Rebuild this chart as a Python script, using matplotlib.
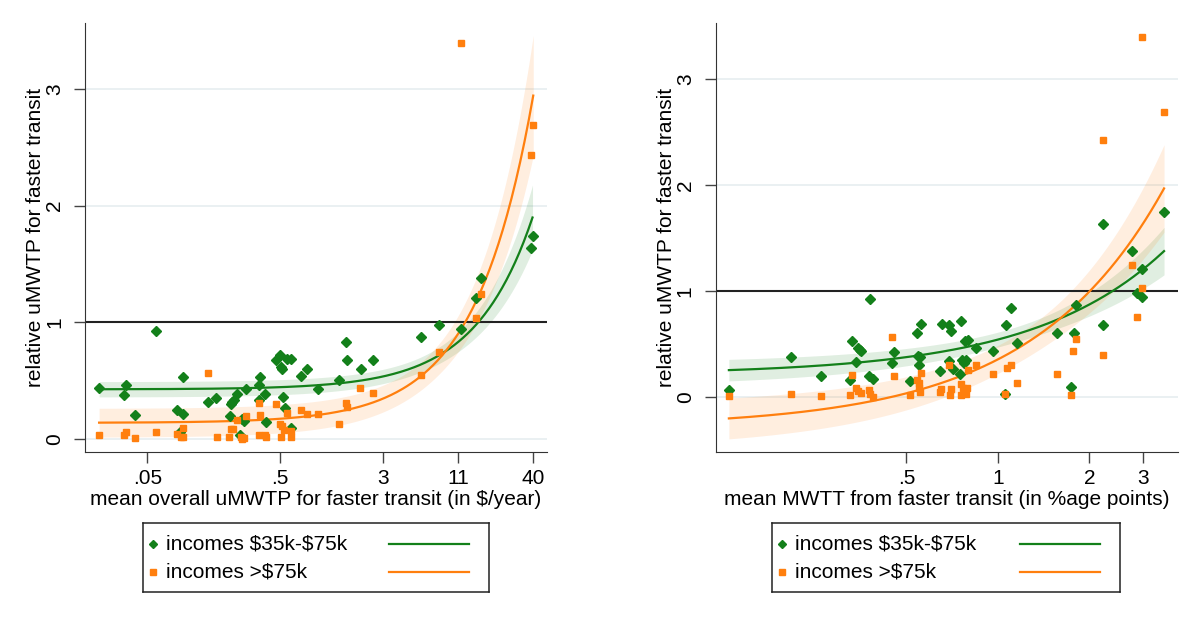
import numpy as np
import matplotlib.pyplot as plt
from matplotlib.ticker import FixedLocator, NullLocator

plt.rcParams['font.family'] = ['Liberation Sans', 'DejaVu Sans']
plt.rcParams['font.size'] = 15

# left panel: x = mean overall uMWTP ($/year), y = relative uMWTP
l_mid_x = [0.0217, 0.0348, 0.0334, 0.0586, 0.0925, 0.0407, 0.0838, 0.0931, 0.0888, 0.143,
           0.166, 0.208, 0.213, 0.218, 0.224, 0.238, 0.258, 0.266, 0.278, 0.251,
           0.346, 0.354, 0.346, 0.387, 0.392, 0.464, 0.499, 0.504, 0.517, 0.567,
           0.602, 0.522, 0.540, 0.605, 0.722, 0.798, 0.970, 1.38, 1.56, 1.60,
           2.02, 2.51, 5.71, 7.90, 11.43, 14.88, 16.25, 39.7, 38.8]
l_mid_y = [0.434, 0.463, 0.381, 0.924, 0.531, 0.204, 0.250, 0.216, 0.056, 0.320,
           0.351, 0.195, 0.298, 0.320, 0.337, 0.386, 0.171, 0.154, 0.426, 0.034,
           0.461, 0.531, 0.338, 0.383, 0.146, 0.679, 0.724, 0.620, 0.600, 0.684,
           0.686, 0.358, 0.263, 0.094, 0.536, 0.598, 0.430, 0.508, 0.835, 0.679,
           0.604, 0.677, 0.871, 0.979, 0.943, 1.208, 1.378, 1.744, 1.637]
l_high_x = [0.0217, 0.0334, 0.0348, 0.0407, 0.0582, 0.0838, 0.0925, 0.0898, 0.0931, 0.143,
            0.167, 0.206, 0.213, 0.221, 0.238, 0.253, 0.260, 0.267, 0.277, 0.346,
            0.354, 0.346, 0.385, 0.394, 0.464, 0.500, 0.515, 0.531, 0.504, 0.567,
            0.608, 0.605, 0.723, 0.798, 0.970, 1.38, 1.57, 1.60, 2.01, 2.51,
            5.71, 7.90, 14.83, 16.3, 11.48, 40.2, 38.8]
l_high_y = [0.034, 0.034, 0.057, 0.009, 0.063, 0.040, 0.094, 0.017, 0.020, 0.568,
            0.017, 0.017, 0.086, 0.086, 0.160, 0.017, 0.000, 0.011, 0.195, 0.306,
            0.206, 0.037, 0.037, 0.017, 0.297, 0.129, 0.111, 0.081, 0.019, 0.220,
            0.071, 0.019, 0.250, 0.213, 0.216, 0.131, 0.307, 0.272, 0.434, 0.394,
            0.547, 0.745, 1.035, 1.247, 3.396, 2.688, 2.434]

# right panel: x = mean MWTT (%age points)
r_mid_x = [0.1304, 0.2092, 0.2627, 0.3320, 0.3406, 0.3458, 0.3511, 0.3557, 0.3273, 0.3784,
           0.3776, 0.3872, 0.4485, 0.4537, 0.5124, 0.5423, 0.5590, 0.5476, 0.5531, 0.5498,
           0.6438, 0.6537, 0.6920, 0.7010, 0.6920, 0.7101, 0.7574, 0.7494, 0.7603, 0.7720,
           0.7856, 0.7813, 0.7964, 0.8473, 0.9656, 1.054, 1.067, 1.104, 1.159, 1.565,
           1.733, 1.773, 1.808, 2.218, 2.218, 2.755, 2.966, 2.877, 2.966, 3.518]
r_mid_y = [0.059, 0.378, 0.200, 0.529, 0.332, 0.460, 0.443, 0.429, 0.155, 0.920,
           0.197, 0.170, 0.318, 0.424, 0.146, 0.599, 0.684, 0.384, 0.378, 0.297,
           0.247, 0.685, 0.677, 0.619, 0.335, 0.262, 0.718, 0.216, 0.347, 0.320,
           0.351, 0.528, 0.540, 0.460, 0.429, 0.028, 0.677, 0.833, 0.509, 0.597,
           0.093, 0.602, 0.869, 0.677, 1.633, 1.376, 1.204, 0.979, 0.939, 1.741]
r_high_x = [0.1304, 0.2092, 0.2629, 0.3267, 0.3320, 0.3406, 0.3464, 0.3540, 0.3781, 0.3810,
            0.3872, 0.4485, 0.4537, 0.5124, 0.5435, 0.5485, 0.5510, 0.5553, 0.5590, 0.6438,
            0.6522, 0.6915, 0.6995, 0.6983, 0.7574, 0.7648, 0.7535, 0.7843, 0.7926, 0.7959,
            0.8473, 0.9656, 1.053, 1.068, 1.103, 1.159, 1.565, 1.733, 1.770, 1.811,
            2.218, 2.759, 2.877, 2.966, 2.971, 3.518, 2.214]
r_high_y = [0.011, 0.030, 0.007, 0.013, 0.205, 0.079, 0.057, 0.032, 0.060, 0.021,
            0.000, 0.567, 0.193, 0.013, 0.160, 0.125, 0.079, 0.042, 0.222, 0.042,
            0.071, 0.299, 0.073, 0.019, 0.123, 0.085, 0.013, 0.025, 0.079, 0.249,
            0.304, 0.212, 0.021, 0.271, 0.304, 0.131, 0.212, 0.018, 0.434, 0.543,
            0.394, 1.244, 0.748, 1.031, 3.394, 2.686, 2.427]

group_labels = ['incomes \\$35k-\\$75k', 'incomes >\\$75k']
green = '#13801a'
orange = '#ff7f0e'


def lfitci(ax, x, y, color):
    x = np.asarray(x)
    y = np.asarray(y)
    b, a = np.polyfit(x, y, 1)
    n = len(x)
    resid = y - (a + b * x)
    s = np.sqrt(np.sum(resid ** 2) / (n - 2))
    sxx = np.sum((x - x.mean()) ** 2)
    xs = np.geomspace(x.min(), x.max(), 300)
    yhat = a + b * xs
    se = s * np.sqrt(1.0 / n + (xs - x.mean()) ** 2 / sxx)
    ax.fill_between(xs, yhat - 2.01 * se, yhat + 2.01 * se, color=color, alpha=0.13, lw=0)
    ax.plot(xs, yhat, color=color, lw=1.6)


def setup(ax, xlim, ylim, xticks, xlabels, xlabel):
    ax.set_xscale('log')
    ax.set_xlim(xlim)
    ax.set_ylim(ylim)
    ax.xaxis.set_major_locator(FixedLocator(xticks))
    ax.xaxis.set_minor_locator(NullLocator())
    ax.set_xticklabels(xlabels)
    ax.set_yticks([0, 1, 2, 3])
    ax.set_yticklabels(['0', '1', '2', '3'], rotation=90, va='center')
    for yv in [0, 2, 3]:
        ax.axhline(yv, color='#e6eef0', lw=1.2, zorder=0)
    ax.axhline(1, color='#222222', lw=1.5, zorder=1)
    ax.spines['top'].set_visible(False)
    ax.spines['right'].set_visible(False)
    ax.spines['left'].set_color('#333333')
    ax.spines['bottom'].set_color('#333333')
    ax.tick_params(length=8, width=1, color='#444444', pad=4)
    ax.tick_params(axis='y', pad=7)
    ax.set_xlabel(xlabel, labelpad=2)
    ax.set_ylabel('relative uMWTP for faster transit', labelpad=0)


def legend_box(rect):
    lg = fig.add_axes(rect)
    lg.set_xlim(0, 1)
    lg.set_ylim(0, 1)
    lg.set_xticks([])
    lg.set_yticks([])
    for sp in lg.spines.values():
        sp.set_linewidth(1.1)
        sp.set_color('#222222')
    rows = [(0.70, green, 'D', 4.5), (0.29, orange, 's', 4.5)]
    for (yy, c, m, ms), lab in zip(rows, group_labels):
        lg.plot([0.03], [yy], marker=m, color=c, ms=ms, ls='none')
        lg.text(0.067, yy, lab, va='center', ha='left')
        lg.plot([0.711, 0.942], [yy, yy], color=c, lw=1.6)


fig = plt.figure(figsize=(11.94, 6.2), dpi=100)

ax1 = fig.add_axes([0.0712, 0.2710, 0.3869, 0.6919])
lfitci(ax1, l_mid_x, l_mid_y, green)
lfitci(ax1, l_high_x, l_high_y, orange)
ax1.plot(l_mid_x, l_mid_y, 'D', color=green, ms=5, ls='none', zorder=3)
ax1.plot(l_high_x, l_high_y, 's', color=orange, ms=5, ls='none', zorder=3)
setup(ax1, (0.017, 51), (-0.111, 3.565), [0.05, 0.5, 3, 11, 40],
      ['.05', '.5', '3', '11', '40'], 'mean overall uMWTP for faster transit (in $/year)')

ax2 = fig.add_axes([0.5994, 0.2710, 0.3872, 0.6919])
lfitci(ax2, r_mid_x, r_mid_y, green)
lfitci(ax2, r_high_x, r_high_y, orange)
ax2.plot(r_mid_x, r_mid_y, 'D', color=green, ms=5, ls='none', zorder=3)
ax2.plot(r_high_x, r_high_y, 's', color=orange, ms=5, ls='none', zorder=3)
setup(ax2, (0.118, 3.91), (-0.522, 3.529), [0.5, 1, 2, 3],
      ['.5', '1', '2', '3'], 'mean MWTT from faster transit (in %age points)')

legend_box([0.1195, 0.0452, 0.2903, 0.1113])
legend_box([0.6466, 0.0452, 0.2915, 0.1113])

fig.savefig('out.png', dpi=100)
